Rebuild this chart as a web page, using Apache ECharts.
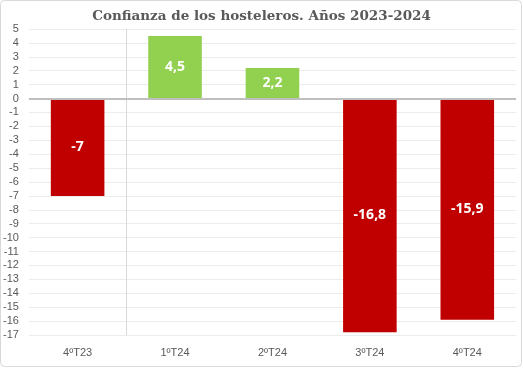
<!DOCTYPE html>
<html><head><meta charset="utf-8">
<script src="https://cdn.jsdelivr.net/npm/echarts@6/dist/echarts.min.js"></script>
<style>html,body{margin:0;padding:0;background:#fff}#c{width:523px;height:368px}</style>
</head><body><div id="c"></div>
<script>
const titleText = 'Confianza de los hosteleros. Años 2023-2024';
const categories = ['4ºT23', '1ºT24', '2ºT24', '3ºT24', '4ºT24'];
const values = [-7, 4.5, 2.2, -16.8, -15.9];
const yMin = -17, yMax = 5, yStep = 1;
const posColor = '#92D050', negColor = '#C00000';
const none = 'rgba(0,0,0,0)';

const chart = echarts.init(document.getElementById('c'), null, {renderer: 'canvas'});
chart.setOption({
  animation: false,
  backgroundColor: '#fff',
  title: {
    text: titleText, left: 'center', top: 4,
    textStyle: {fontFamily: 'DejaVu Serif', fontWeight: 'bold', fontSize: 13.5, color: '#595959'}
  },
  graphic: [{
    type: 'rect', shape: {x: 0.5, y: 0.5, width: 521, height: 366, r: 4},
    style: {fill: 'none', stroke: '#d9d9d9', lineWidth: 1}, silent: true
  }],
  grid: {left: 27, right: 7, top: 29, bottom: 33},
  xAxis: {
    type: 'category', data: categories, position: 'bottom',
    axisLine: {show: false, onZero: false}, axisTick: {show: false},
    axisLabel: {color: '#595959', fontSize: 11, fontFamily: 'Liberation Sans', margin: 12},
    splitLine: {show: true, lineStyle: {width: 1, color: [none, '#d9d9d9', none, none, none, none]}}
  },
  yAxis: {
    type: 'value', min: yMin, max: yMax, interval: yStep,
    axisLine: {show: false}, axisTick: {show: false},
    axisLabel: {color: '#595959', fontSize: 11, fontFamily: 'Liberation Sans', margin: 10},
    splitLine: {lineStyle: {color: '#ececec', width: 1}}
  },
  series: [{
    type: 'bar', barWidth: '55%',
    data: values.map(v => ({value: v, itemStyle: {color: v >= 0 ? posColor : negColor}})),
    label: {
      show: true, position: 'inside', color: '#fff', fontWeight: 'bold', fontSize: 14,
      fontFamily: 'Open Sans',
      formatter: p => String(p.value).replace('.', ',')
    },
    markLine: {
      silent: true, symbol: 'none', label: {show: false},
      data: [
        {yAxis: 0, lineStyle: {color: '#bfbfbf', width: 2, type: 'solid'}}
      ]
    }
  }]
});
</script></body></html>
